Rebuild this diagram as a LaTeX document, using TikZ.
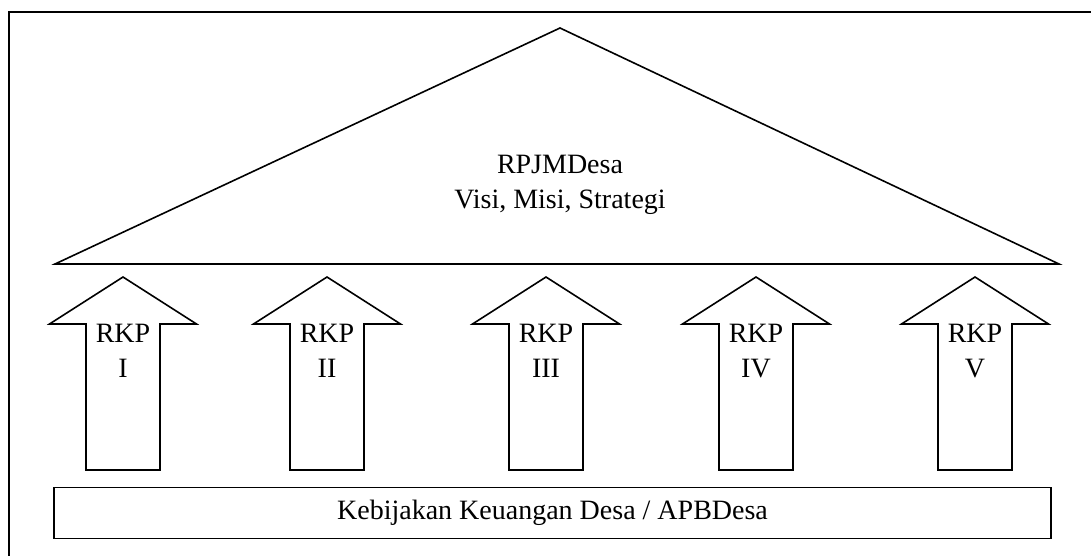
\documentclass[tikz,border=0pt]{standalone}
\usepackage{fontspec}
\setmainfont{Liberation Serif}
\begin{document}
\begin{tikzpicture}[x=1pt,y=-1pt,line join=miter,
  shape line/.style={draw=black,line width=1.6pt},
  lbl/.style={font=\fontsize{28}{34.5}\selectfont,align=center,inner sep=0pt}]
\useasboundingbox (0,0) rectangle (1091,555);
% outer frame (partly cropped)
\draw[line width=1.6pt] (9,560) -- (9,12) -- (1095,12);
% roof triangle
\draw[shape line] (560,28) -- (1059,264) -- (55,264) -- cycle;
\node[lbl] (roof) at (560,185) {RPJMDesa\\Visi, Misi, Strategi};
% arrows
\foreach \cx/\nm/\t in {123/a1/I, 327/a2/II, 546/a3/III, 756/a4/IV, 975/a5/V}{
  \draw[shape line] (\cx-37,470) -- (\cx-37,324) -- (\cx-73.5,324) -- (\cx,277)
     -- (\cx+73.5,324) -- (\cx+37,324) -- (\cx+37,470) -- cycle;
  \node[lbl] (\nm) at (\cx,351) {RKP\\\t};
}
% base box
\node[draw=black,line width=1.6pt,minimum width=997pt,minimum height=51pt,
  inner sep=0pt,font=\fontsize{28}{34}\selectfont] (base) at (552.5,513)
  {Kebijakan Keuangan Desa / APBDesa};
\end{tikzpicture}
\end{document}
